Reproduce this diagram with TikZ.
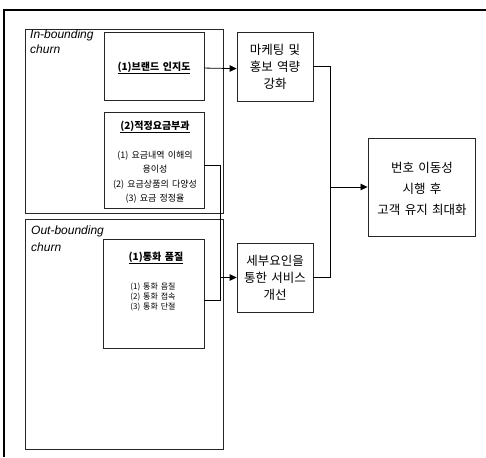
\documentclass[tikz,border=0pt]{standalone}
\usepackage{fontspec}
\setmainfont{Liberation Sans}
\newfontfamily\kr[WordSpace=1.6]{Noto Sans CJK KR}
\usetikzlibrary{arrows.meta,calc}
\tikzset{
  box/.style={draw=black!85, line width=0.7pt, inner sep=0pt},
  frame/.style={draw=black, line width=1.6pt},
  wire/.style={draw=black, line width=0.8pt},
  arr/.style={wire, -{Triangle[length=7pt,width=6.5pt]}},
  lab/.style={inner sep=0pt, align=left, anchor=north west, font=\itshape\fontsize{12}{15}\selectfont},
  head/.style={inner sep=0pt, font=\kr\bfseries\fontsize{10}{12}\selectfont},
  ktext/.style={inner sep=0pt, align=center}
}
\begin{document}
\begin{tikzpicture}[x=1pt,y=-1pt]
\useasboundingbox (0,0) rectangle (486,457);
\fill[white] (0,0) rectangle (486,457);
% outer frame (cut at right and bottom)
\draw[frame] (4,457) -- (4,10) -- (486,10);

% group boxes
\node[box, minimum width=198pt, minimum height=184pt] (inb) at (124,121) {};
\node[box, minimum width=198pt, minimum height=230pt] (outb) at (124,334) {};
\node[lab] (inblab) at (30,30) {In-bounding\\churn};
\node[lab, font=\itshape\fontsize{12}{17}\selectfont] (outblab) at (31,226) {Out-bounding\\churn};

% inner boxes
\node[box, minimum width=100pt, minimum height=68pt] (brand) at (154,66) {};
\node[head] (brandt) at (154,68) {\underline{(1)브랜드 인지도}};

\node[box, minimum width=100pt, minimum height=96pt] (fee) at (154,160) {};
\node[head] (feeh) at (155,127) {\underline{(2)적정요금부과}};
\node[ktext, font=\kr\fontsize{9}{14.5}\selectfont] (feet) at (155,177)
  {(1) 요금내역 이해의\\용이성\\(2) 요금상품의 다양성\\(3) 요금 정정율};

\node[box, minimum width=101pt, minimum height=109pt] (call) at (153.5,293.5) {};
\node[head] (callh) at (156,258) {\underline{(1)통화 품질}};
\node[ktext, font=\kr\fontsize{8}{10}\selectfont] (callt) at (153,297)
  {(1) 통화 음질\\(2) 통화 접속\\(3) 통화 단절};

% middle boxes
\node[box, minimum width=76pt, minimum height=69pt] (mkt) at (275,66.5) {};
\node[ktext, font=\kr\fontsize{12.5}{17}\selectfont] (mktt) at (275,66.5) {마케팅 및\\홍보 역량\\강화};
\node[box, minimum width=76pt, minimum height=69pt] (svc) at (275,277.5) {};
\node[ktext, font=\kr\fontsize{12.5}{17}\selectfont] (svct) at (275,277.5) {세부요인을\\통한 서비스\\개선};

% goal box
\node[box, line width=0.9pt, minimum width=107pt, minimum height=98pt] (goal) at (421.5,187) {};
\node[ktext, font=\kr\fontsize{12.5}{21}\selectfont] (goalt) at (422,189) {번호 이동성\\시행 후\\고객 유지 최대화};

% connectors
\draw[arr] ($(brand.north east)!0.53!(brand.south east)$) -- ($(mkt.north west)!0.53!(mkt.south west)$);

\coordinate (fe) at ($(fee.north east)!0.56!(fee.south east)$);
\coordinate (ce) at ($(call.north east)!0.56!(call.south east)$);
\coordinate (bus1) at (220,0);
\draw[wire] (fe) -- (bus1 |- fe) -- (bus1 |- ce) -- (ce);
\draw[arr] (bus1 |- svc.west) -- (svc.west);

\coordinate (bus2) at (330,0);
\draw[wire] (mkt.east) -- (bus2 |- mkt.east) -- (bus2 |- svc.east) -- (svc.east);
\draw[arr] (bus2 |- goal.west) -- (goal.west);
\end{tikzpicture}
\end{document}
